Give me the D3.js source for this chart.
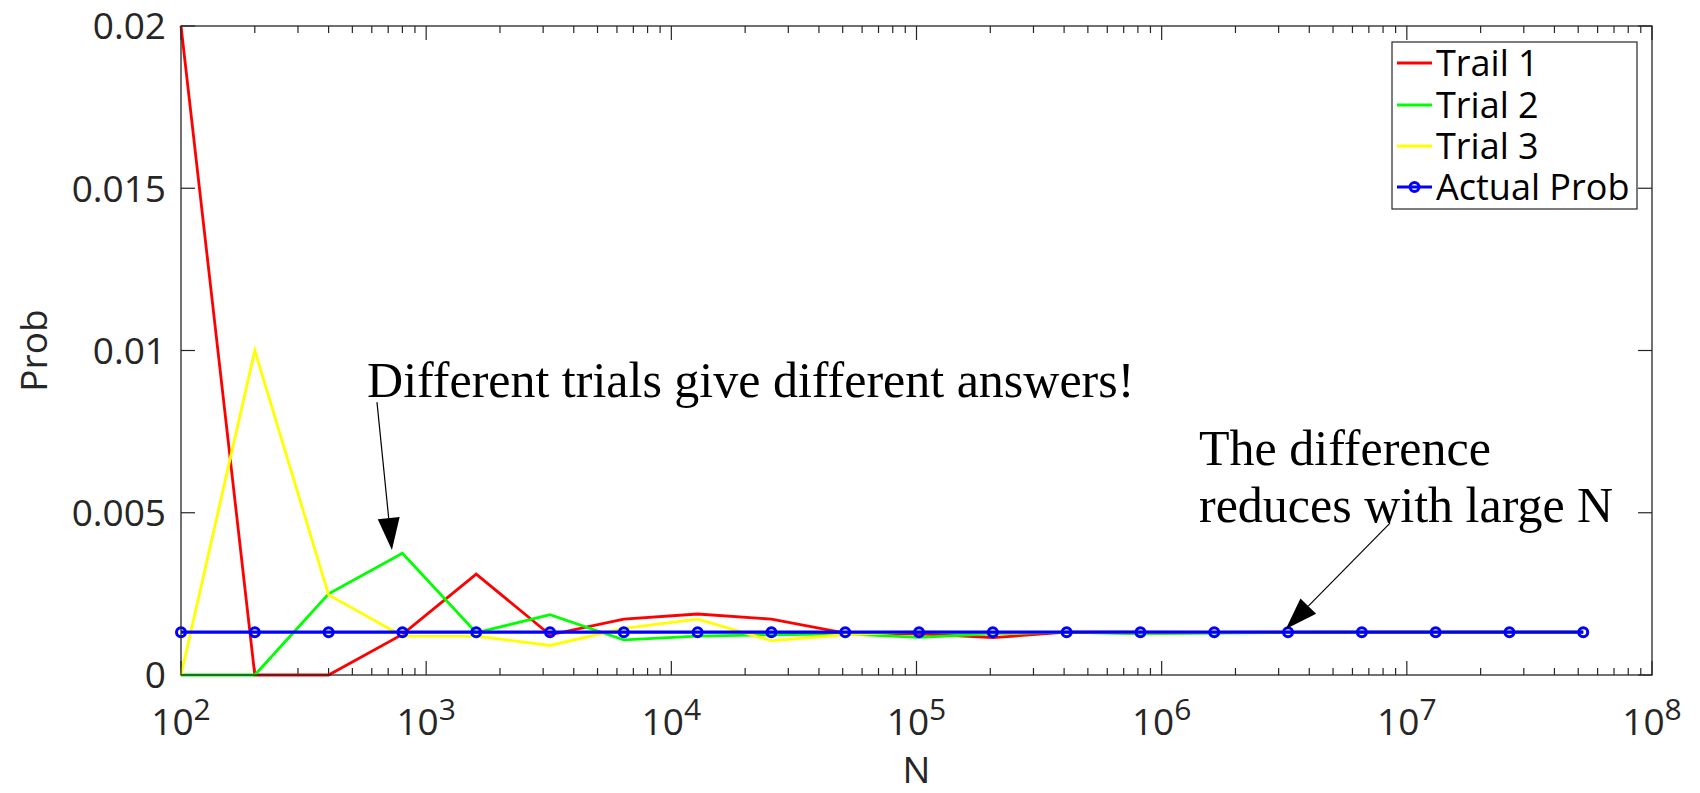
<!DOCTYPE html>
<html>
<head>
<meta charset="utf-8">
<script src="https://cdn.jsdelivr.net/npm/d3@7"></script>
<style>
  html, body { margin: 0; padding: 0; background: #fff; }
  svg { display: block; }
</style>
</head>
<body>
<svg id="chart" width="1700" height="793"></svg>
<script>
// ---- data ----
const N = [100, 200, 400, 800, 1600, 3200, 6400, 12800, 25600, 51200, 102400, 204800,
           409600, 819200, 1638400, 3276800, 6553600, 13107200, 26214400, 52428800];
const trial1 = [0.02, 0, 0, 0.00125, 0.00311, 0.00124, 0.00172, 0.00188, 0.00172, 0.00129,
                0.00127, 0.00115, 0.00132, 0.00132, 0.00131, 0.00132, 0.00132, 0.00132, 0.00132, 0.00132];
const trial2 = [0, 0, 0.0025, 0.00375, 0.0013, 0.00186, 0.00108, 0.0012, 0.00124, 0.00127,
                0.00116, 0.00127, 0.00132, 0.00127, 0.00129, 0.00131, 0.00132, 0.00132, 0.00132, 0.00132];
const trial3 = [0, 0.01, 0.00247, 0.0012, 0.0012, 0.00091, 0.00144, 0.00172, 0.00106, 0.00124,
                0.00134, 0.00129, 0.00132, 0.0013, 0.00131, 0.00132, 0.00132, 0.00132, 0.00132, 0.00132];
const actual = [0.00132, 0.00132, 0.00132, 0.00132, 0.00132, 0.00132, 0.00132, 0.00132, 0.00132, 0.00132,
                0.00132, 0.00132, 0.00132, 0.00132, 0.00132, 0.00132, 0.00132, 0.00132, 0.00132, 0.00132];
const seriesNames = ["Trail 1", "Trial 2", "Trial 3", "Actual Prob"];
const seriesColors = ["#ff0000", "#00ff00", "#ffff00", "#0000ff"];
const xTickExps = [2, 3, 4, 5, 6, 7, 8];
const yTicks = [0, 0.005, 0.01, 0.015, 0.02];
const yTickLabels = ["0", "0.005", "0.01", "0.015", "0.02"];
const xLabel = "N";
const yLabel = "Prob";
const note1 = { text: ["Different trials give different answers!"], n: 574, v: 0.00857,
                from: [630, 0.00841], to: [725, 0.00385] };
const note2 = { text: ["The difference", "reduces with large N"], n: 1.42e6, v: 0.00647,
                from: [8.54e6, 0.00468], to: [3.21e6, 0.00142] };

// ---- layout ----
const M = { left: 181, right: 1652, top: 26, bottom: 675 };
const axisColor = "#262626";
const sansFont = "'Open Sans', 'Liberation Sans', sans-serif";
const serifFont = "'Liberation Serif', serif";

const svg = d3.select("#chart");
const x = d3.scaleLog().domain([1e2, 1e8]).range([M.left, M.right]);
const y = d3.scaleLinear().domain([0, 0.02]).range([M.bottom, M.top]);

// plot area background
svg.append("rect").attr("x", M.left).attr("y", M.top)
  .attr("width", M.right - M.left).attr("height", M.bottom - M.top).attr("fill", "#fff");

// ---- ticks (inward, both sides) ----
const majorLen = 14, minorLen = 7;
const gTicks = svg.append("g").attr("stroke", axisColor).attr("stroke-width", 1.2);
const minorVals = [];
for (let e = 2; e < 8; e++) for (let m = 2; m <= 9; m++) minorVals.push(m * Math.pow(10, e));
xTickExps.forEach(e => {
  const px = x(Math.pow(10, e));
  gTicks.append("line").attr("x1", px).attr("x2", px).attr("y1", M.bottom).attr("y2", M.bottom - majorLen);
  gTicks.append("line").attr("x1", px).attr("x2", px).attr("y1", M.top).attr("y2", M.top + majorLen);
});
minorVals.forEach(v => {
  const px = x(v);
  gTicks.append("line").attr("x1", px).attr("x2", px).attr("y1", M.bottom).attr("y2", M.bottom - minorLen);
  gTicks.append("line").attr("x1", px).attr("x2", px).attr("y1", M.top).attr("y2", M.top + minorLen);
});
yTicks.forEach(v => {
  const py = y(v);
  gTicks.append("line").attr("x1", M.left).attr("x2", M.left + majorLen).attr("y1", py).attr("y2", py);
  gTicks.append("line").attr("x1", M.right).attr("x2", M.right - majorLen).attr("y1", py).attr("y2", py);
});

// ---- series ----
const allSeries = [trial1, trial2, trial3, actual];
const line = d3.line().x((d, i) => x(N[i])).y(d => y(d));
allSeries.forEach((s, k) => {
  svg.append("path").datum(s)
    .attr("fill", "none")
    .attr("stroke", seriesColors[k])
    .attr("stroke-width", k === 3 ? 3.2 : 2.8)
    .attr("stroke-linejoin", "miter")
    .attr("d", line);
});
svg.append("g").selectAll("circle").data(actual).join("circle")
  .attr("cx", (d, i) => x(N[i])).attr("cy", d => y(d)).attr("r", 4.5)
  .attr("fill", "none").attr("stroke", seriesColors[3]).attr("stroke-width", 3);

// ---- box ----
svg.append("rect").attr("x", M.left).attr("y", M.top)
  .attr("width", M.right - M.left).attr("height", M.bottom - M.top)
  .attr("fill", "none").attr("stroke", axisColor).attr("stroke-width", 1.3);

// ---- tick labels ----
const gLab = svg.append("g").attr("font-family", sansFont).attr("fill", axisColor);
yTicks.forEach((v, i) => {
  gLab.append("text").attr("x", M.left - 15).attr("y", y(v)).attr("dy", "0.36em")
    .attr("text-anchor", "end").attr("font-size", 37).text(yTickLabels[i]);
});
xTickExps.forEach(e => {
  const t = gLab.append("text").attr("x", x(Math.pow(10, e))).attr("y", 735)
    .attr("text-anchor", "middle").attr("font-size", 37);
  t.append("tspan").text("10");
  t.append("tspan").attr("font-size", 30).attr("dy", -15).text(String(e));
});
gLab.append("text").attr("x", (M.left + M.right) / 2).attr("y", 783)
  .attr("text-anchor", "middle").attr("font-size", 37).text(xLabel);
gLab.append("text").attr("transform", `translate(47,${(M.top + M.bottom) / 2}) rotate(-90)`)
  .attr("text-anchor", "middle").attr("font-size", 37).text(yLabel);

// ---- legend ----
const L = { x: 1392, y: 42, w: 245, h: 167 };
const gLeg = svg.append("g");
gLeg.append("rect").attr("x", L.x).attr("y", L.y).attr("width", L.w).attr("height", L.h)
  .attr("fill", "#fff").attr("stroke", axisColor).attr("stroke-width", 1.2);
const rowY = [63, 105, 146, 187];
seriesNames.forEach((name, k) => {
  gLeg.append("line").attr("x1", 1397).attr("x2", 1432).attr("y1", rowY[k]).attr("y2", rowY[k])
    .attr("stroke", seriesColors[k]).attr("stroke-width", k === 3 ? 3.2 : 2.8);
  if (k === 3) {
    gLeg.append("circle").attr("cx", 1414.5).attr("cy", rowY[k]).attr("r", 4.5)
      .attr("fill", "none").attr("stroke", seriesColors[k]).attr("stroke-width", 3);
  }
  gLeg.append("text").attr("x", 1436).attr("y", rowY[k]).attr("dy", "0.36em")
    .attr("font-family", sansFont).attr("font-size", 36).attr("fill", "#000").text(name);
});

// ---- annotations ----
function arrow(from, to) {
  const x1 = x(from[0]), y1 = y(from[1]), x2 = x(to[0]), y2 = y(to[1]);
  const ang = Math.atan2(y2 - y1, x2 - x1);
  const hl = 32, hw = 11;
  const bx = x2 - hl * Math.cos(ang), by = y2 - hl * Math.sin(ang);
  svg.append("line").attr("x1", x1).attr("y1", y1).attr("x2", bx).attr("y2", by)
    .attr("stroke", "#000").attr("stroke-width", 1.2);
  const px = -Math.sin(ang) * hw, py = Math.cos(ang) * hw;
  svg.append("path")
    .attr("d", `M${x2},${y2}L${bx + px},${by + py}L${bx - px},${by - py}Z`)
    .attr("fill", "#000");
}
[note1, note2].forEach(nt => {
  const t = svg.append("text").attr("x", x(nt.n)).attr("y", y(nt.v))
    .attr("font-family", serifFont).attr("font-size", 50).attr("fill", "#000");
  nt.text.forEach((s, i) => {
    t.append("tspan").attr("x", x(nt.n)).attr("dy", i === 0 ? 0 : 57).text(s);
  });
  arrow(nt.from, nt.to);
});
</script>
</body>
</html>
